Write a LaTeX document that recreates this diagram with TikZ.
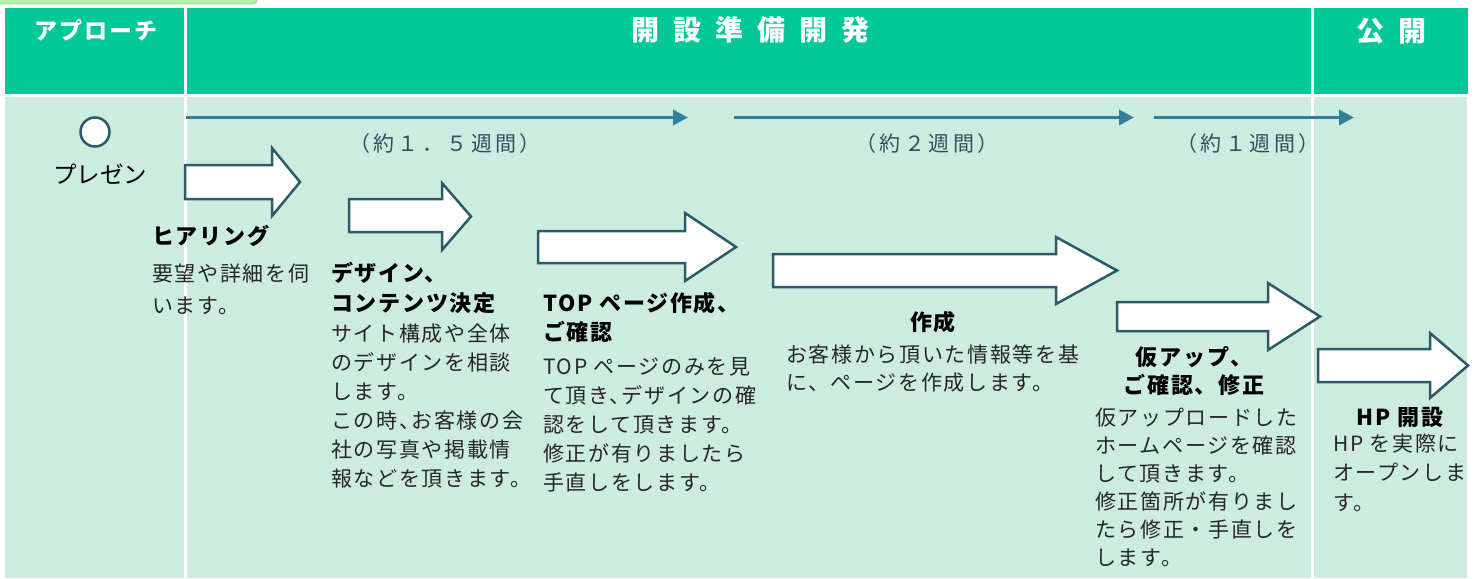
\documentclass[tikz,border=0pt]{standalone}
\usepackage{fontspec}
\setmainfont{Noto Sans CJK JP}
\newfontfamily\jpbody[LetterSpace=8]{Noto Sans CJK JP}
\newfontfamily\jphead[LetterSpace=8]{Noto Sans CJK JP}
\newfontfamily\jptitle[LetterSpace=50]{Noto Sans CJK JP}
\newfontfamily\jpsub[LetterSpace=8]{Noto Sans CJK JP}
\newfontfamily\jplbl[LetterSpace=16]{Noto Sans CJK JP}
\newcommand{\hcomma}{、\kern-0.42em}
\usetikzlibrary{arrows.meta}
\definecolor{hdr}{RGB}{0,200,150}
\definecolor{bdy}{RGB}{205,236,224}
\definecolor{tlc}{RGB}{49,128,155}
\definecolor{dkc}{RGB}{43,91,107}
\definecolor{lblc}{RGB}{45,80,95}
\definecolor{tabc}{RGB}{178,242,168}
\newcommand{\blockarrow}[7]{% x0, xh, xt, body top, body bottom, head top, head bottom
  \draw[blockarr] (#1,#4) -- (#2,#4) -- (#2,#6) -- (#3,{(#6+#7)/2}) -- (#2,#7) -- (#2,#5) -- (#1,#5) -- cycle;}
\tikzset{
  blockarr/.style={draw=dkc, line width=2.5pt, fill=white, line join=miter},
  tlarrow/.style={draw=tlc, line width=3.5pt, -{Triangle[length=15pt,width=15pt]}},
  hdrtext/.style={text=white, font=\jpsub\bfseries\fontsize{23}{26}\selectfont, inner sep=0pt},
  titletext/.style={text=white, font=\jptitle\bfseries\fontsize{28}{30}\selectfont, inner sep=0pt},
  lbltext/.style={text=lblc, font=\jplbl\fontsize{21}{24}\selectfont, inner sep=0pt},
  headtext/.style={text=black, font=\jphead\bfseries\fontsize{22}{29}\selectfont, inner sep=0pt, align=left},
  bodytext/.style={text=black!85, font=\jpbody\fontsize{21}{29}\selectfont, inner sep=0pt, align=left},
}
\begin{document}
\begin{tikzpicture}[x=1pt,y=-1pt]
\useasboundingbox (0,0) rectangle (1477,578);
\fill[white] (0,0) rectangle (1477,578);
% top tab
\draw[tabc!80!green!70!black!40!tabc, line width=0.8pt, fill=tabc, rounded corners=4pt] (-10,-10) rectangle (257,4);
% table
\fill[hdr] (5,8) rectangle (1468,94);
\fill[bdy] (5,97) rectangle (1467,578);
\draw[white, line width=2.5pt] (185.5,8) -- (185.5,578);
\draw[white, line width=2.5pt] (1312.5,8) -- (1312.5,578);
% header texts
\node[hdrtext] (h1) at (96,30) {アプローチ};
\node[titletext] (h2) at (750,30) {開設準備開発};
\node[titletext] (h3) at (1391,31) {公開};
% timeline
\coordinate (t1s) at (186,117.5); \coordinate (t1e) at (688,117.5);
\coordinate (t2s) at (734,117.5); \coordinate (t2e) at (1134,117.5);
\coordinate (t3s) at (1154,117.5); \coordinate (t3e) at (1354,117.5);
\draw[tlarrow] (t1s) -- (t1e);
\draw[tlarrow] (t2s) -- (t2e);
\draw[tlarrow] (t3s) -- (t3e);
\node[lbltext] (l1) at (445,144) {（約１．５週間）};
\node[lbltext] (l2) at (927,144) {（約２週間）};
\node[lbltext] (l3) at (1248,144) {（約１週間）};
% presentation
\node[circle, draw=dkc, line width=2.5pt, fill=white, minimum size=29pt, inner sep=0pt] (c1) at (95,132) {};
\node[text=black, font=\fontsize{23.5}{26}\selectfont, inner sep=0pt] (p1) at (100,174) {プレゼン};
% block arrows
\blockarrow{185}{272}{300}{165}{199}{148}{216}
\blockarrow{349}{442}{471}{199}{232}{183}{250}
\blockarrow{538}{685}{736}{231}{263}{213}{281}
\blockarrow{773}{1056}{1117}{254}{287}{237}{304}
\blockarrow{1117}{1268}{1320}{302}{331}{283}{350}
\blockarrow{1318}{1430}{1468}{349}{382}{333}{398}
% step texts (base anchor = baseline of last line)
\node[headtext, anchor=base west] (s1h) at (152,244) {ヒアリング};
\node[bodytext, anchor=base west, font=\jpbody\fontsize{21}{32}\selectfont] (s1b) at (152,313) {要望や詳細を伺\\います。};
\node[headtext, anchor=base west, font=\jphead\bfseries\fontsize{22}{30}\selectfont] (s2h) at (331,311) {デザイン、\\コンテンツ決定};
\node[bodytext, anchor=base west] (s2b) at (331,486) {サイト構成や全体\\のデザインを相談\\します。\\この時\hcomma お客様の会\\社の写真や掲載情\\報などを頂きます。};
\node[headtext, anchor=base west] (s3h) at (543,340) {TOP ページ作成、\\ご確認};
\node[bodytext, anchor=base west] (s3b) at (543,490) {TOP ページのみを見\\て頂き\hcomma デザインの確\\認をして頂きます。\\修正が有りましたら\\手直しをします。};
\node[headtext] (s4h) at (933,322) {作成};
\node[bodytext, anchor=base west, font=\jpbody\fontsize{21}{27.5}\selectfont] (s4b) at (786,390) {お客様から頂いた情報等を基\\に、ページを作成します。};
\node[headtext, align=center, anchor=base, font=\jphead\bfseries\fontsize{22}{28}\selectfont] (s5h) at (1194,393) {仮アップ、\\ご確認、修正};
\node[bodytext, anchor=base west, font=\jpbody\fontsize{21}{28}\selectfont] (s5b) at (1095,565) {仮アップロードした\\ホームページを確認\\して頂きます。\\修正箇所が有りまし\\たら修正・手直しを\\します。};
\node[headtext] (s6h) at (1400,417) {HP 開設};
\node[bodytext, anchor=base west, font=\jpbody\fontsize{21}{29.5}\selectfont] (s6b) at (1333,510) {HP を実際に\\オープンしま\\す。};
\end{tikzpicture}
\end{document}
